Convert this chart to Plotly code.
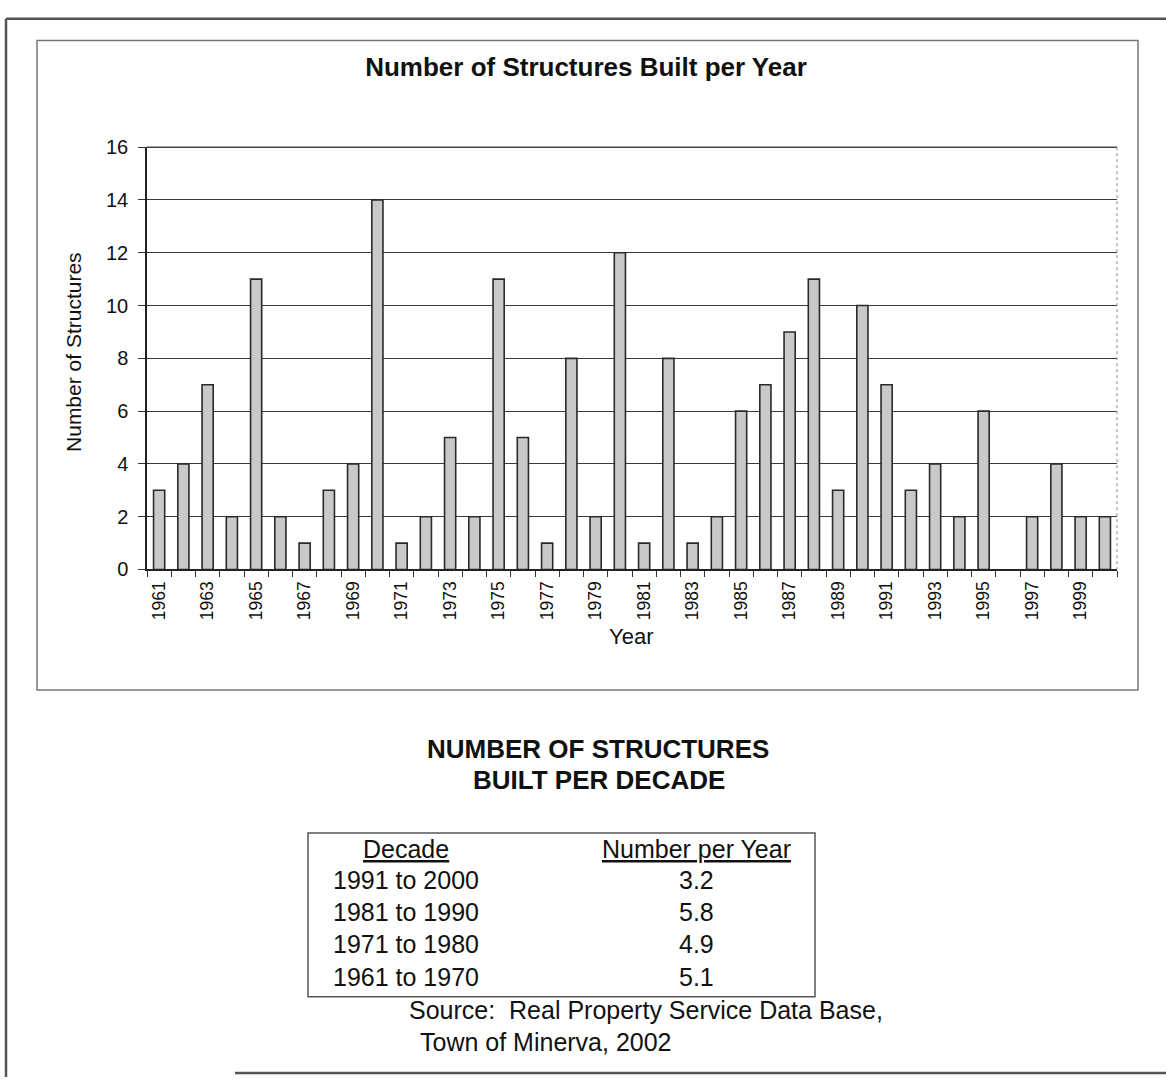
import plotly.graph_objects as go

# Structures built per year, Town of Minerva
years = list(range(1961, 2001))
structures = [3, 4, 7, 2, 11, 2, 1, 3, 4, 14,
              1, 2, 5, 2, 11, 5, 1, 8, 2, 12,
              1, 8, 1, 2, 6, 7, 9, 11, 3, 10,
              7, 3, 4, 2, 6, 0, 2, 4, 2, 2]

# Decade summary table
decades = ["1991 to 2000", "1981 to 1990", "1971 to 1980", "1961 to 1970"]
per_year = ["3.2", "5.8", "4.9", "5.1"]

label_years = [y for y in years if y % 2 == 1]
y_ticks = list(range(0, 17, 2))

W, H = 1166, 1088
FONT = "Arial, 'Liberation Sans', sans-serif"


def px(x):
    return x / W


def py(y):
    return 1 - y / H


# years with no structures get no outline either
outline_w = [1.6 if v > 0 else 0 for v in structures]

fig = go.Figure()
fig.add_trace(go.Bar(
    x=years, y=structures,
    marker=dict(color="#c9c9c9", line=dict(color="#2a2a2a", width=outline_w)),
    width=0.46,
    hoverinfo="x+y",
))

fig.update_layout(
    width=W, height=H,
    margin=dict(l=0, r=0, t=0, b=0),
    paper_bgcolor="white", plot_bgcolor="white",
    showlegend=False,
    font=dict(family=FONT, color="#111"),
    title=dict(text="<b>Number of Structures Built per Year</b>",
               x=px(586), y=py(57), xanchor="center", yanchor="middle",
               xref="paper", yref="paper",
               font=dict(size=26, family=FONT, color="#111")),
    xaxis=dict(
        domain=[px(147), px(1117)],
        range=[years[0] - 0.5, years[-1] + 0.5],
        tickmode="array", tickvals=label_years,
        ticktext=[str(y) for y in label_years],
        tickangle=-90, ticks="", ticklabelstandoff=3,
        tickfont=dict(size=17.5, family=FONT, color="#111"),
        showgrid=False, zeroline=False,
        showline=True, linecolor="#222", linewidth=1.5,
        minor=dict(ticks="outside", tick0=years[0] - 0.5, dtick=1,
                   ticklen=6, tickcolor="#333", tickwidth=1, showgrid=False),
        fixedrange=True,
    ),
    yaxis=dict(
        domain=[py(570), py(139)],
        range=[0, 16], tickmode="array", tickvals=y_ticks,
        ticks="outside", ticklen=7, tickcolor="#333",
        ticklabelstandoff=6,
        tickfont=dict(size=20, family=FONT, color="#111"),
        showgrid=True, gridcolor="#3a3a3a", gridwidth=1,
        zeroline=False,
        showline=True, linecolor="#222", linewidth=1.5,
        fixedrange=True,
    ),
)

shapes = [
    # outer page frame
    dict(type="line", x0=px(6), x1=px(1166), y0=py(8), y1=py(8),
         line=dict(color="#555", width=2.5)),
    dict(type="line", x0=px(6), x1=px(6), y0=py(8), y1=py(1088),
         line=dict(color="#555", width=2.5)),
    dict(type="line", x0=px(235), x1=px(1166), y0=py(1084), y1=py(1084),
         line=dict(color="#555", width=2.5)),
    # chart frame
    dict(type="rect", x0=px(37), x1=px(1138), y0=py(30), y1=py(693),
         line=dict(color="#777", width=1.5)),
    # top edge of plot area
    dict(type="line", x0=px(147), x1=px(1117), y0=py(139), y1=py(139),
         line=dict(color="#444", width=1.5)),
    # dotted right edge of plot area
    dict(type="line", x0=px(1117), x1=px(1117), y0=py(139), y1=py(570),
         line=dict(color="#888", width=1, dash="dot")),
    # decade table frame
    dict(type="rect", x0=px(308), x1=px(815), y0=py(839), y1=py(1006),
         line=dict(color="#555", width=1.5)),
]
for s in shapes:
    s.update(xref="paper", yref="paper", layer="above")
fig.update_layout(shapes=shapes)

ann = []
# axis titles
ann.append(dict(text="Year", x=px(631), y=py(638),
                font=dict(size=22, family=FONT, color="#111")))
ann.append(dict(text="Number of Structures", x=px(74), y=py(348),
                textangle=-90, font=dict(size=21, family=FONT, color="#111")))
# table heading
ann.append(dict(text="<b>NUMBER OF STRUCTURES</b>", x=px(598), y=py(753),
                font=dict(size=26, family=FONT, color="#111")))
ann.append(dict(text="<b>BUILT PER DECADE</b>", x=px(599), y=py(785),
                font=dict(size=26, family=FONT, color="#111")))
# table header
ann.append(dict(text="<u>Decade</u>", x=px(406), y=py(855),
                font=dict(size=25, family=FONT, color="#111")))
ann.append(dict(text="<u>Number per Year</u>", x=px(696), y=py(855),
                font=dict(size=25, family=FONT, color="#111")))
row_y = [887, 920, 952, 986]
for d, v, ry in zip(decades, per_year, row_y):
    ann.append(dict(text=d, x=px(406), y=py(ry),
                    font=dict(size=25, family=FONT, color="#111")))
    ann.append(dict(text=v, x=px(696), y=py(ry),
                    font=dict(size=25, family=FONT, color="#111")))
# source note
ann.append(dict(text="Source:  Real Property Service Data Base,", x=px(407),
                y=py(1020), xanchor="left",
                font=dict(size=25, family=FONT, color="#111")))
ann.append(dict(text="Town of Minerva, 2002", x=px(418), y=py(1052),
                xanchor="left", font=dict(size=25, family=FONT, color="#111")))

for a in ann:
    a.setdefault("xanchor", "center")
    a.update(xref="paper", yref="paper", yanchor="middle", showarrow=False)
fig.update_layout(annotations=ann)

fig.write_html("out.html")
